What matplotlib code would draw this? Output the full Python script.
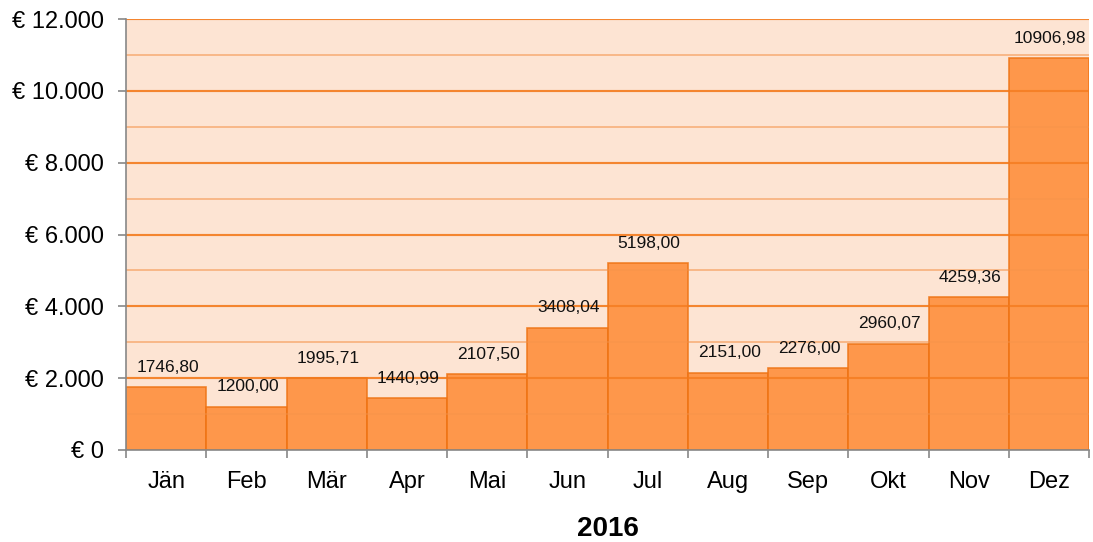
import matplotlib
matplotlib.use("Agg")
import matplotlib.pyplot as plt
from matplotlib.ticker import MultipleLocator, FuncFormatter

months = ["Jän", "Feb", "Mär", "Apr", "Mai", "Jun", "Jul", "Aug", "Sep", "Okt", "Nov", "Dez"]
values = [1746.80, 1200.00, 1995.71, 1440.99, 2107.50, 3408.04, 5198.00, 2151.00, 2276.00, 2960.07, 4259.36, 10906.98]
year_label = "2016"

plt.rcParams['font.family'] = ['Liberation Sans', 'DejaVu Sans']

fig = plt.figure(figsize=(10.93, 5.42), dpi=100)
ax = fig.add_axes([126/1093, 1-450/542, (1089-126)/1093, (450-19)/542])
ax.set_facecolor('#FDE4D3')

x = list(range(len(months)))
ax.set_xlim(-0.5, len(months) - 0.5)
ax.set_ylim(0, 12000)

ax.yaxis.set_major_locator(MultipleLocator(2000))
ax.yaxis.set_minor_locator(MultipleLocator(1000))
ax.grid(which='major', axis='y', color='#F7964A', linewidth=1.5, zorder=0)
ax.grid(which='minor', axis='y', color='#FAC49C', linewidth=1.3, zorder=0)
ax.set_axisbelow(True)

bars = ax.bar(x, values, width=1.0, color='#FF8A33', alpha=0.85,
              edgecolor='#EE7314', linewidth=1.2, zorder=1)
# gridlines visible over bars
for yv in range(2000, 12001, 2000):
    ax.axhline(yv, color='#F27A1E', linewidth=1.5, alpha=0.6, zorder=2)
for yv in range(1000, 12000, 2000):
    ax.axhline(yv, color='#F49A5A', linewidth=1.2, alpha=0.4, zorder=2)

for xi, v in zip(x, values):
    ax.annotate(f"{v:.2f}".replace('.', ','), (xi, v), xytext=(1, 9),
                textcoords='offset points', ha='center', va='bottom', fontsize=12.5, color='#111111', zorder=3)

def eur(v, pos):
    return "€ " + f"{int(v):,}".replace(',', '.')
ax.yaxis.set_major_formatter(FuncFormatter(eur))

ax.set_xticks([i - 0.5 for i in range(len(months) + 1)])
ax.set_xticklabels([])
ax.set_xticks(x, minor=True)
ax.set_xticklabels(months, minor=True)
ax.tick_params(axis='x', which='major', length=6, color='#888888', width=1.2, direction='out')
ax.tick_params(axis='x', which='minor', length=0, labelsize=17, pad=15)
ax.tick_params(axis='y', which='major', length=6, color='#888888', width=1.2, labelsize=17, pad=10)
ax.tick_params(axis='y', which='minor', length=0)

for s in ['top', 'right']:
    ax.spines[s].set_visible(False)
for s in ['left', 'bottom']:
    ax.spines[s].set_color('#888888')
    ax.spines[s].set_linewidth(1.2)

ax.set_xlabel(year_label, fontsize=20, fontweight='bold', labelpad=17)

fig.savefig('out.png', dpi=100)
